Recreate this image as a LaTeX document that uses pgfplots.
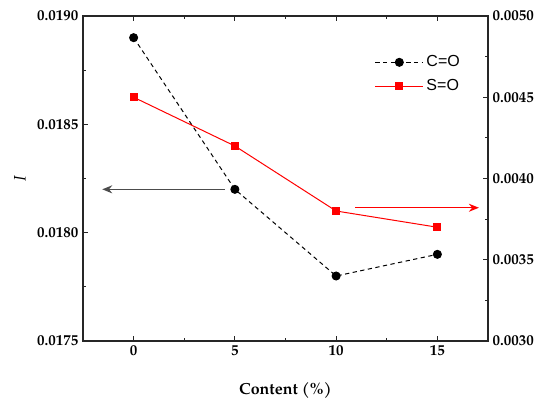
\documentclass[border=0pt]{standalone}
\usepackage{fontspec}
\setmainfont{TeX Gyre Pagella}
\newfontfamily\legendfont{Liberation Sans}
\usepackage{pgfplots}
\pgfplotsset{compat=1.18}
\usetikzlibrary{arrows.meta}
\begin{document}
\begin{tikzpicture}
\pgfplotsset{
  every axis/.append style={
    scale only axis, width=303.75pt, height=243.75pt,
    xmin=-2.5, xmax=17.5,
    axis line style={line width=1pt, black!85},
    tick style={line width=0.9pt, black!85},
    major tick length=4pt, minor tick length=2.5pt,
    tick align=inside,
    tick label style={font=\fontsize{11.2}{13}\selectfont\bfseries},
    /pgf/number format/assume math mode=true,
    scaled y ticks=false,
    yticklabel style={/pgf/number format/.cd, fixed, fixed zerofill, precision=4},
  }
}
\begin{axis}[
  ymin=0.0175, ymax=0.0190,
  xtick={0,5,10,15}, minor x tick num=1,
  ytick={0.0175,0.0180,0.0185,0.0190}, minor y tick num=1,
  xtick pos=both, ytick pos=left,
  xlabel={Content (\%)}, ylabel={\textit{I}},
  xlabel style={font=\fontsize{12}{14}\selectfont\bfseries, at={(axis description cs:0.5,-0.151)}, anchor=center},
  ylabel style={font=\fontsize{12.5}{14}\selectfont, at={(axis description cs:-0.1556,0.5)}, anchor=center},
]
\addplot[black, line width=0.75pt, dash pattern=on 3.2pt off 2.6pt, mark=*, mark size=3pt, mark options={solid, fill=black}]
  coordinates {(0,0.01890) (5,0.01820) (10,0.01780) (15,0.01790)};
\draw[-{Stealth[length=7.5pt,width=6pt]}, black!70, line width=1.1pt] (axis cs:4.5,0.0182) -- (axis cs:-1.55,0.0182);
\end{axis}
\begin{axis}[
  ymin=0.0030, ymax=0.0050,
  axis x line=none, axis y line*=right,
  ytick={0.0030,0.0035,0.0040,0.0045,0.0050}, minor y tick num=1,
  legend style={at={(0.71,0.895)}, anchor=north west, draw=none, fill=none,
    font=\legendfont\fontsize{12}{14}\selectfont, row sep=4pt},
  legend cell align=left,
  legend image code/.code={\draw[mark repeat=2,mark phase=2,#1] plot coordinates {(0pt,0pt)(18pt,0pt)(36pt,0pt)};},
]
\addlegendimage{black, line width=0.75pt, dash pattern=on 3.2pt off 2.6pt, mark=*, mark size=3pt, mark options={solid, fill=black}}
\addlegendentry{C=O}
\addplot[red, line width=0.75pt, mark=square*, mark size=2.7pt, mark options={solid, fill=red}]
  coordinates {(0,0.0045) (5,0.0042) (10,0.0038) (15,0.0037)};
\addlegendentry{S=O}
\draw[-{Stealth[length=7.5pt,width=6pt]}, red, line width=1.1pt] (axis cs:10.95,0.00382) -- (axis cs:17.05,0.00382);
\end{axis}
\pgfresetboundingbox
\path[use as bounding box] ([xshift=-62.25pt,yshift=-49.5pt]current axis.south west) rectangle ++(412.5pt,305.25pt);
\end{tikzpicture}
\end{document}
